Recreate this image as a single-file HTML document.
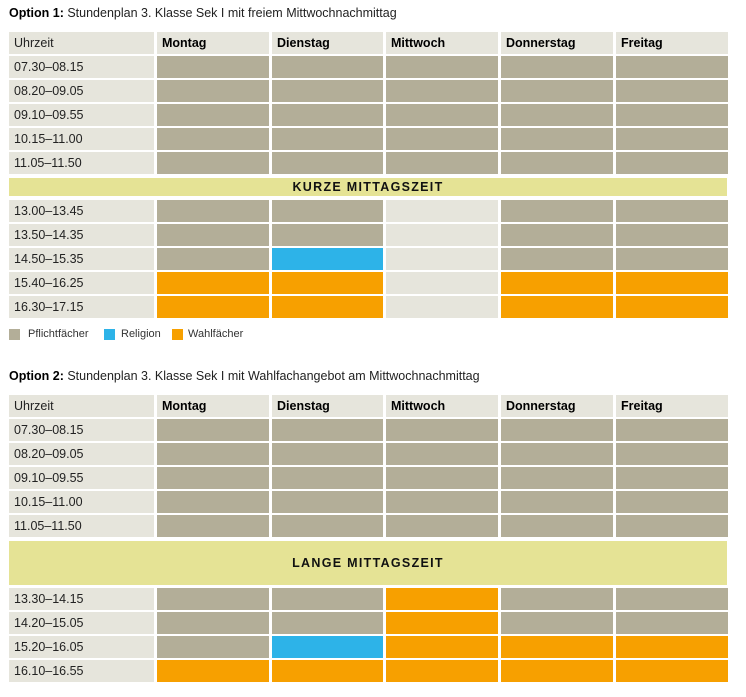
<!DOCTYPE html>
<html><head><meta charset="utf-8">
<style>
body{margin:0;width:746px;height:697px;background:#fff;position:relative;font-family:"Liberation Sans",Arial,sans-serif;overflow:hidden}
.c{position:absolute;box-sizing:border-box;font-size:12.5px;color:#222;padding-left:5px;display:flex;align-items:center}
.t{position:absolute;font-size:12.5px;color:#222;white-space:nowrap}
.b{font-weight:bold;color:#000}
.band{position:absolute;background:#e5e395;font-weight:bold;font-size:12.5px;letter-spacing:1.3px;display:flex;align-items:center;justify-content:center;color:#111}
.lg{position:absolute;width:11px;height:11px}
.lt{position:absolute;font-size:11px;color:#333}
</style></head><body>
<div class="t" style="left:9px;top:6px"><span class="b">Option 1:</span> Stundenplan 3. Klasse Sek I mit freiem Mittwochnachmittag</div>
<div class="t" style="left:9px;top:369px"><span class="b">Option 2:</span> Stundenplan 3. Klasse Sek I mit Wahlfachangebot am Mittwochnachmittag</div>
<div class="band" style="left:9px;top:178px;width:718px;height:18px">KURZE MITTAGSZEIT</div>
<div class="band" style="left:9px;top:541px;width:718px;height:44px">LANGE MITTAGSZEIT</div>
<div class="lg" style="left:9px;top:329px;background:#b3ae98"></div>
<div class="lt" style="left:28px;top:328px">Pflichtfächer</div>
<div class="lg" style="left:104px;top:329px;background:#2db3e8"></div>
<div class="lt" style="left:121px;top:328px">Religion</div>
<div class="lg" style="left:172px;top:329px;background:#f7a000"></div>
<div class="lt" style="left:188px;top:328px">Wahlfächer</div>
<script>
const days=["Montag","Dienstag","Mittwoch","Donnerstag","Freitag"];
const times1a=["07.30–08.15","08.20–09.05","09.10–09.55","10.15–11.00","11.05–11.50"];
const times1b=["13.00–13.45","13.50–14.35","14.50–15.35","15.40–16.25","16.30–17.15"];
const grid1a=["ppppp","ppppp","ppppp","ppppp","ppppp"];
const grid1b=["ppepp","ppepp","prepp","wweww","wweww"];
const times2a=["07.30–08.15","08.20–09.05","09.10–09.55","10.15–11.00","11.05–11.50"];
const times2b=["13.30–14.15","14.20–15.05","15.20–16.05","16.10–16.55"];
const grid2a=["ppppp","ppppp","ppppp","ppppp","ppppp"];
const grid2b=["ppwpp","ppwpp","prwww","wwwww"];
const colors={p:"#b3ae98",r:"#2db3e8",w:"#f7a000",e:"#e6e5dc"};
const colX=[9,157,272,386,501,616], colW=[145,112,111,112,112,112];
function cell(x,y,w,h,bg,txt,bold,name){
  const d=document.createElement('div');
  d.className='c'+(bold?' b':'');
  d.style.cssText=`left:${x}px;top:${y}px;width:${w}px;height:${h}px;background:${bg}`;
  if(txt)d.textContent=txt;
  
  
  document.body.appendChild(d);
}
function header(y,tag){
  cell(colX[0],y,colW[0],22,"#e6e5dc","Uhrzeit",false,tag+"-header-uhrzeit");
  days.forEach((d,i)=>cell(colX[i+1],y,colW[i+1],22,"#e6e5dc",d,true,tag+"-header-"+d.toLowerCase()));
}
function rows(y0,times,grid,tag){
  times.forEach((t,r)=>{
    const y=y0+r*24;
    cell(colX[0],y,colW[0],22,"#e6e5dc",t,false,tag+"-time-"+r);
    [...grid[r]].forEach((k,i)=>cell(colX[i+1],y,colW[i+1],22,colors[k],"",false,tag+"-cell-"+days[i].toLowerCase()+"-"+r));
  });
}
header(32,"t1");rows(56,times1a,grid1a,"t1a");rows(200,times1b,grid1b,"t1b");
header(395,"t2");rows(419,times2a,grid2a,"t2a");rows(588,times2b,grid2b,"t2b");
</script>
</body></html>
